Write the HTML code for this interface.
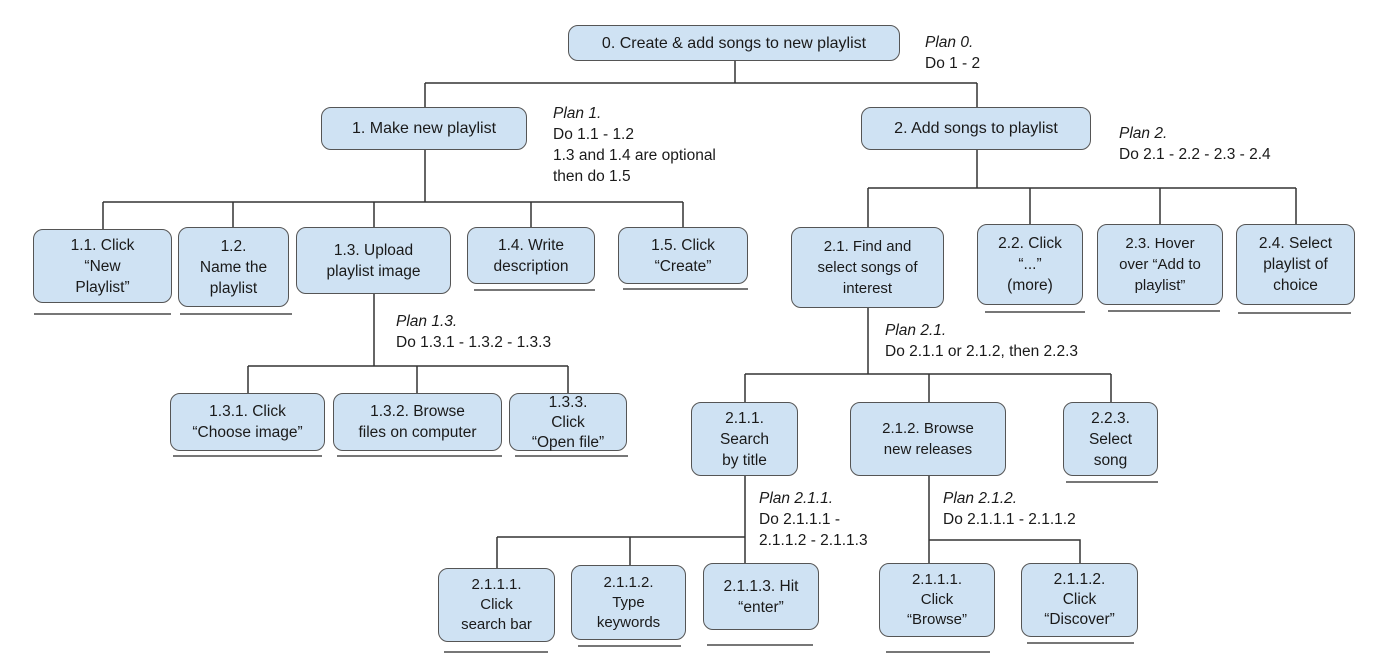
<!DOCTYPE html>
<html><head><meta charset="utf-8"><style>
body{margin:0;width:1392px;height:667px;background:#fff;position:relative;overflow:hidden;font-family:"Liberation Sans",Arial,sans-serif;color:#1a1a1a}
.b{position:absolute;box-sizing:border-box;background:#cfe2f3;border:1.5px solid #555;border-radius:10px;display:flex;align-items:center;justify-content:center;text-align:center;font-size:15.5px;line-height:21px}
.u{position:absolute;height:2px;background:#777}
.t{position:absolute;font-size:15.5px;line-height:21px;white-space:nowrap}
i{font-style:italic}
svg{position:absolute;left:0;top:0}
</style></head><body>
<svg width="1392" height="667"><g stroke="#333" stroke-width="1.5" fill="none">
<path d="M735 61V83M425 83H977M425 83V107M977 83V107"/>
<path d="M425 150V202M103 202H683M103 202V229M233 202V227M374 202V227M531 202V227M683 202V227"/>
<path d="M977 150V188M868 188H1296M868 188V227M1030 188V224M1160 188V224M1296 188V224"/>
<path d="M374 294V366M248 366H568M248 366V393M417 366V393M568 366V393"/>
<path d="M868 308V374M745 374H1111M745 374V402M929 374V402M1111 374V402"/>
<path d="M745 476V563M497 537H745M497 537V568M630 537V565"/>
<path d="M929 476V563M929 540H1080V563"/>
</g></svg>
<div class="b" style="left:568px;top:25px;width:332px;height:36px;font-size:16px">0. Create &amp; add songs to new playlist</div>
<div class="t" style="left:925px;top:32px"><i>Plan 0.</i><br>Do 1 - 2</div>
<div class="b" style="left:321px;top:107px;width:206px;height:43px;font-size:16px">1. Make new playlist</div>
<div class="t" style="left:553px;top:103px"><i>Plan 1.</i><br>Do 1.1 - 1.2<br>1.3 and 1.4 are optional<br>then do 1.5</div>
<div class="b" style="left:861px;top:107px;width:230px;height:43px;font-size:16px">2. Add songs to playlist</div>
<div class="t" style="left:1119px;top:123px"><i>Plan 2.</i><br>Do 2.1 - 2.2 - 2.3 - 2.4</div>

<div class="b" style="left:33px;top:229px;width:139px;height:74px">1.1. Click<br>“New<br>Playlist”</div>
<div class="u" style="left:34px;top:313px;width:137px"></div>
<div class="b" style="left:178px;top:227px;width:111px;height:80px">1.2.<br>Name the<br>playlist</div>
<div class="u" style="left:180px;top:313px;width:112px"></div>
<div class="b" style="left:296px;top:227px;width:155px;height:67px">1.3. Upload<br>playlist image</div>
<div class="b" style="left:467px;top:227px;width:128px;height:57px">1.4. Write<br>description</div>
<div class="u" style="left:474px;top:289px;width:121px"></div>
<div class="b" style="left:618px;top:227px;width:130px;height:57px">1.5. Click<br>“Create”</div>
<div class="u" style="left:623px;top:288px;width:125px"></div>

<div class="t" style="left:396px;top:311px"><i>Plan 1.3.</i><br>Do 1.3.1 - 1.3.2 - 1.3.3</div>
<div class="b" style="left:170px;top:393px;width:155px;height:58px">1.3.1. Click<br>“Choose image”</div>
<div class="u" style="left:173px;top:455px;width:149px"></div>
<div class="b" style="left:333px;top:393px;width:169px;height:58px">1.3.2. Browse<br>files on computer</div>
<div class="u" style="left:337px;top:455px;width:165px"></div>
<div class="b" style="left:509px;top:393px;width:118px;height:58px;line-height:20px;padding-top:2px">1.3.3.<br>Click<br>“Open file”</div>
<div class="u" style="left:515px;top:455px;width:113px"></div>

<div class="b" style="left:791px;top:227px;width:153px;height:81px;font-size:15px">2.1. Find and<br>select songs of<br>interest</div>
<div class="b" style="left:977px;top:224px;width:106px;height:81px">2.2. Click<br>“...”<br>(more)</div>
<div class="u" style="left:985px;top:311px;width:100px"></div>
<div class="b" style="left:1097px;top:224px;width:126px;height:81px;font-size:15px">2.3. Hover<br>over “Add to<br>playlist”</div>
<div class="u" style="left:1108px;top:310px;width:112px"></div>
<div class="b" style="left:1236px;top:224px;width:119px;height:81px">2.4. Select<br>playlist of<br>choice</div>
<div class="u" style="left:1238px;top:312px;width:113px"></div>

<div class="t" style="left:885px;top:320px"><i>Plan 2.1.</i><br>Do 2.1.1 or 2.1.2, then 2.2.3</div>
<div class="b" style="left:691px;top:402px;width:107px;height:74px">2.1.1.<br>Search<br>by title</div>
<div class="b" style="left:850px;top:402px;width:156px;height:74px;font-size:15px">2.1.2. Browse<br>new releases</div>
<div class="b" style="left:1063px;top:402px;width:95px;height:74px">2.2.3.<br>Select<br>song</div>
<div class="u" style="left:1066px;top:481px;width:92px"></div>

<div class="t" style="left:759px;top:488px"><i>Plan 2.1.1.</i><br>Do 2.1.1.1 -<br>2.1.1.2 - 2.1.1.3</div>
<div class="t" style="left:943px;top:488px"><i>Plan 2.1.2.</i><br>Do 2.1.1.1 - 2.1.1.2</div>

<div class="b" style="left:438px;top:568px;width:117px;height:74px;font-size:15px;line-height:20px">2.1.1.1.<br>Click<br>search bar</div>
<div class="u" style="left:444px;top:651px;width:104px"></div>
<div class="b" style="left:571px;top:565px;width:115px;height:75px;font-size:15px;line-height:20px">2.1.1.2.<br>Type<br>keywords</div>
<div class="u" style="left:578px;top:645px;width:103px"></div>
<div class="b" style="left:703px;top:563px;width:116px;height:67px">2.1.1.3. Hit<br>“enter”</div>
<div class="u" style="left:707px;top:644px;width:106px"></div>
<div class="b" style="left:879px;top:563px;width:116px;height:74px;font-size:15px;line-height:20px">2.1.1.1.<br>Click<br>“Browse”</div>
<div class="u" style="left:886px;top:651px;width:104px"></div>
<div class="b" style="left:1021px;top:563px;width:117px;height:74px;line-height:20px">2.1.1.2.<br>Click<br>“Discover”</div>
<div class="u" style="left:1027px;top:642px;width:107px"></div>
</body></html>
